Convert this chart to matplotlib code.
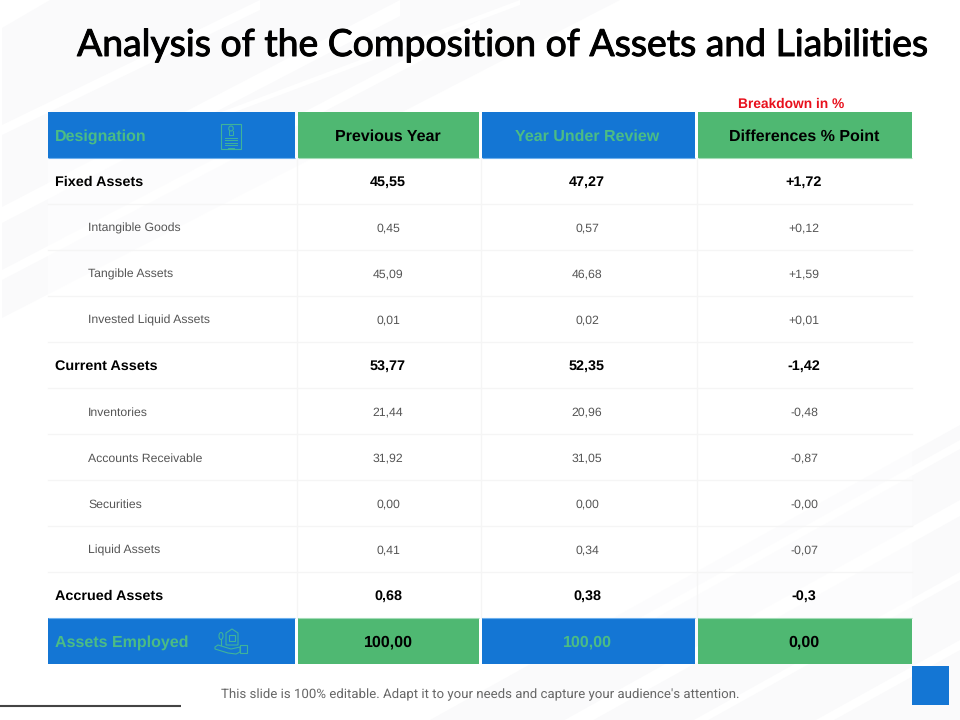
import matplotlib
matplotlib.use("Agg")
import matplotlib.pyplot as plt
import matplotlib.patheffects as pe
from matplotlib.patches import Rectangle, Polygon, Ellipse

plt.rcParams["text.hinting"] = "no_hinting"

title = "Analysis of the Composition of Assets and Liabilities"
note = "Breakdown in %"
footer = "This slide is 100% editable. Adapt it to your needs and capture your audience's attention."

headers = ["Designation", "Previous Year", "Year Under Review", "Differences % Point"]
labels = ["Fixed Assets", "Intangible Goods", "Tangible Assets", "Invested Liquid Assets",
          "Current Assets", "Inventories", "Accounts Receivable", "Securities",
          "Liquid Assets", "Accrued Assets"]
previous = ["45,55", "0,45", "45,09", "0,01", "53,77", "21,44", "31,92", "0,00", "0,41", "0,68"]
review = ["47,27", "0,57", "46,68", "0,02", "52,35", "20,96", "31,05", "0,00", "0,34", "0,38"]
diffs = ["+1,72", "+0,12", "+1,59", "+0,01", "-1,42", "-0,48", "-0,87", "-0,00", "-0,07", "-0,3"]
bold_rows = [True, False, False, False, True, False, False, False, False, True]
totals = ["Assets Employed", "100,00", "100,00", "0,00"]

BLUE = "#1476d4"
GREEN = "#4fb872"
TXT_GREEN = "#4cbc84"
ICON = "#3fb39a"
GREY = "#555555"
LINE = "#f5f5f5"
BG = "#fafafb"
ARIAL = "Liberation Sans"

# column edges in pixels
col_left = [48, 298, 482, 698]
col_right = [295, 479, 695, 912]
col_mid = [0, 388, 587, 804]
row_h = 46.0

fig = plt.figure(figsize=(9.6, 7.2), dpi=100)
ax = fig.add_axes([0, 0, 1, 1])
ax.set_xlim(0, 960)
ax.set_ylim(720, 0)
ax.axis("off")


def stripe(x0, x1, y_a, y_b, wide, color="white"):
    # diagonal band running from (x0, y_a..) to (x1, y_b..), wide px tall
    ax.add_patch(Polygon([(x0, y_a), (x1, y_b), (x1, y_b + wide), (x0, y_a + wide)], color=color, lw=0))


# faint diagonal background, top left
ax.add_patch(Polygon([(2, 28), (50, 0), (620, 0), (2, 318)], color=BG, lw=0))
stripe(2, 260, 125, 0, 10)
stripe(2, 400, 207, 0, 16)
stripe(2, 480, 270, 20, 10)
stripe(200, 520, 120, 0, 5)
# bottom right
ax.add_patch(Polygon([(960, 425), (430, 720), (960, 720)], color=BG, lw=0))
stripe(960, 600, 440, 640, 9)
stripe(960, 500, 500, 756, 16)
stripe(960, 640, 572, 750, 8)
stripe(960, 780, 640, 740, 10)
# the table body sits on top and mutes what is behind it
ax.add_patch(Rectangle((48, 158), 864, 460, color="white", alpha=0.55, lw=0))


def band(y0, y1, texts, edge_y):
    for i in range(4):
        color = BLUE if i % 2 == 0 else GREEN
        edge = "#6db0ee" if i % 2 == 0 else "#a3dcb7"
        ax.add_patch(Rectangle((col_left[i], y0), col_right[i] - col_left[i], y1 - y0, color=color, lw=0))
        ax.plot([col_left[i], col_right[i]], [edge_y, edge_y], color=edge, lw=0.8, solid_capstyle="butt")
        tc = TXT_GREEN if i % 2 == 0 else "black"
        base = (y0 + y1) / 2 + 6
        if i == 0:
            ax.text(55, base, texts[i], color=tc, fontsize=11.5, fontweight="bold",
                    family=ARIAL, ha="left", va="baseline")
        else:
            ax.text(col_mid[i], base, texts[i], color=tc, fontsize=11.5, fontweight="bold",
                    family=ARIAL, ha="center", va="baseline")


band(112, 158, headers, 157.6)
band(618, 664, totals, 618.4)

# table body
top = 158
for r, name in enumerate(labels):
    y = top + r * row_h + row_h / 2
    strong = bold_rows[r]
    size = 10.4 if strong else 8.8
    color = "black" if strong else GREY
    weight = "bold" if strong else "normal"
    base = y + (5 if strong else 4.5)
    ax.text(55 if strong else 88, base, name, fontsize=size, color=color, fontweight=weight,
            family=ARIAL, ha="left", va="baseline")
    for c, vals in zip([1, 2, 3], [previous, review, diffs]):
        ax.text(col_mid[c], base, vals[r], fontsize=size, color=color, fontweight=weight,
                family=ARIAL, ha="center", va="baseline")
    if r < len(labels) - 1:
        ax.plot([48, 912], [top + (r + 1) * row_h] * 2, color=LINE, lw=1.0)
for x in [296.5, 480.5, 696.5]:
    ax.plot([x, x], [158, 618], color=LINE, lw=1.0)

# certificate icon in the header
ax.add_patch(Rectangle((221, 123.5), 20, 25.5, fill=False, ec=ICON, lw=0.8))
ax.add_patch(Ellipse((231, 128.5), 4.5, 5, fill=False, ec=ICON, lw=0.8))
ax.plot([229, 229, 233, 233], [131, 135, 135, 131], color=ICON, lw=0.7)
for yy, x0, x1 in [(137.5, 225, 237), (140, 225, 237), (142.5, 225, 237), (145, 225, 237), (147.5, 228, 234)]:
    ax.plot([x0, x1], [yy, yy], color=ICON, lw=0.7)

# hand and house icon in the total row
ax.add_patch(Polygon([(226, 645), (226, 633), (232, 629), (238, 633), (238, 645)],
                     fill=False, ec=ICON, lw=0.8))
ax.add_patch(Rectangle((229, 635), 6, 6, fill=False, ec=ICON, lw=0.8))
ax.add_patch(Polygon([(215, 647), (218, 645), (231, 649), (240, 647), (240, 652),
                      (236, 654), (228, 653), (215, 649)], fill=False, ec=ICON, lw=0.8))
ax.add_patch(Rectangle((240, 645), 7, 8, fill=False, ec=ICON, lw=0.8))
ax.add_patch(Ellipse((221, 636), 4, 7, fill=False, ec=ICON, lw=0.8))
ax.plot([221, 221], [639, 645], color=ICON, lw=0.8)

# title, note, footer
ax.text(77, 56, title, fontsize=26.87, color="black", family="Lato",
        ha="left", va="baseline",
        path_effects=[pe.withStroke(linewidth=0.7, foreground="black")])
ax.text(791.5, 107.5, note, fontsize=9.95, color="#e8101c", family=ARIAL, fontweight="bold",
        ha="center", va="baseline")
ax.text(480, 698, footer, fontsize=9.5, color="#666666", family="Roboto", ha="center", va="baseline")

# decorations at the bottom
ax.plot([0, 181], [705.5, 705.5], color="#444444", lw=1.5, solid_capstyle="butt")
ax.add_patch(Rectangle((912, 666), 37, 39, color=BLUE, lw=0))

fig.savefig("out.png", dpi=100)
